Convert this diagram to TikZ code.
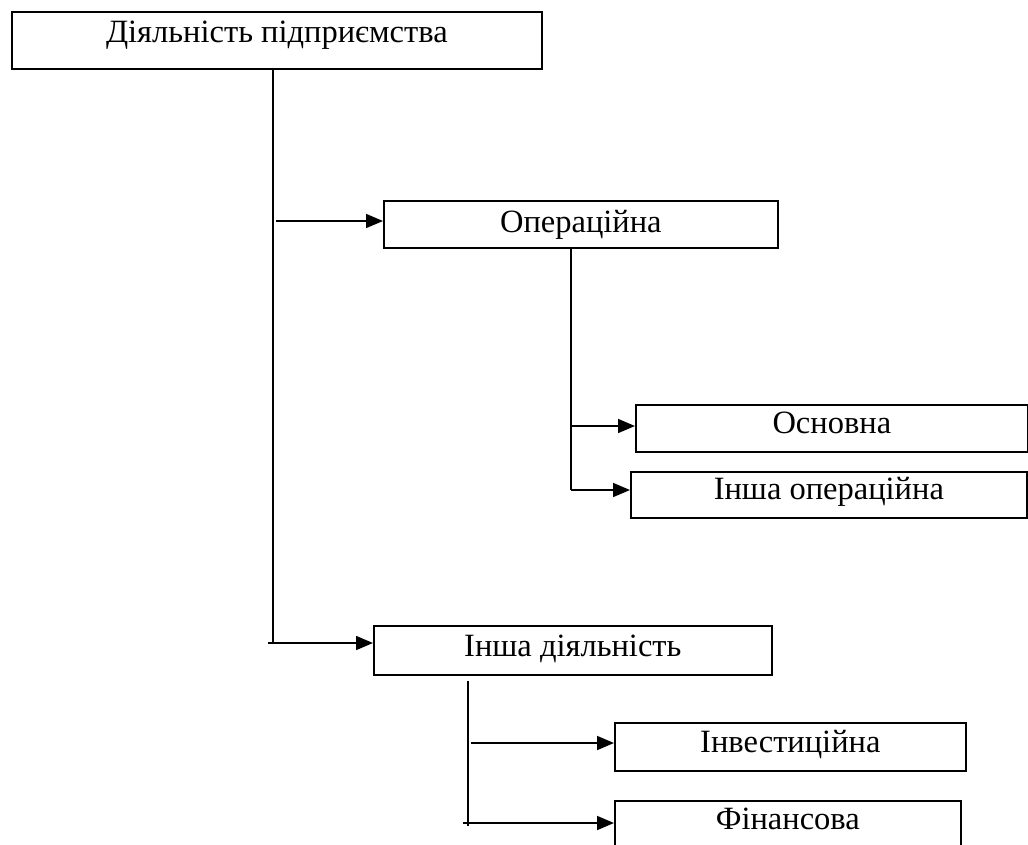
\documentclass[tikz,border=0pt]{standalone}
\usepackage{fontspec}
\setmainfont{Liberation Serif}
\usetikzlibrary{arrows.meta}
\begin{document}
\begin{tikzpicture}[x=1pt,y=-1pt,line width=1.7pt,
  box/.style={draw,line width=1.7pt,anchor=north west,inner sep=0pt},
  txt/.style={anchor=base,inner sep=0pt,font=\fontsize{32.5}{36}\selectfont},
  arr/.style={-{Triangle[length=17pt,width=14pt]},line width=1.7pt}]
\useasboundingbox (0,0) rectangle (1028,844);
\clip (0,0) rectangle (1028,844);
% boxes
\node[box,minimum width=530pt,minimum height=57pt] (top) at (11,11) {};
\node[box,minimum width=394pt,minimum height=47pt] (op) at (383,200) {};
\node[box,minimum width=392pt,minimum height=47pt] (osn) at (635,404) {};
\node[box,minimum width=396pt,minimum height=46pt] (insho) at (630,471) {};
\node[box,minimum width=398pt,minimum height=49pt] (inshd) at (373,625) {};
\node[box,minimum width=351pt,minimum height=48pt] (inv) at (614,722) {};
\node[box,minimum width=346pt,minimum height=60pt] (fin) at (614,800) {};
% texts
\node[txt] (topT) at ([yshift=-31pt]top.north) {Діяльність підприємства};
\node[txt] (opT) at ([yshift=-32pt]op.north) {Операційна};
\node[txt] (osnT) at ([yshift=-29pt]osn.north) {Основна};
\node[txt] (inshoT) at ([yshift=-28pt]insho.north) {Інша операційна};
\node[txt] (inshdT) at ([yshift=-31pt]inshd.north) {Інша діяльність};
\node[txt] (invT) at ([yshift=-30pt]inv.north) {Інвестиційна};
\node[txt] (finT) at ([yshift=-29pt]fin.north) {Фінансова};
% connectors
\coordinate (t1) at (273,643);
\coordinate (o1) at (571,490);
\coordinate (i1) at (468,826);
\draw (top.south -| t1) -- (t1);
\draw[arr] ([xshift=3pt]t1 |- 0,221) -- (op.west |- 0,221);
\draw[arr] ([xshift=-5pt]t1) -- (inshd.west |- t1);
\draw (op.south -| o1) -- (o1);
\draw[arr] (o1 |- 0,426) -- (osn.west |- 0,426);
\draw[arr] (o1) -- (insho.west |- o1);
\draw ([yshift=-5pt]inshd.south -| i1) -- (i1);
\draw[arr] ([xshift=3pt]i1 |- 0,743) -- (inv.west |- 0,743);
\coordinate (f1) at (463,823);
\draw[arr] (f1) -- (fin.west |- f1);
\end{tikzpicture}
\end{document}
